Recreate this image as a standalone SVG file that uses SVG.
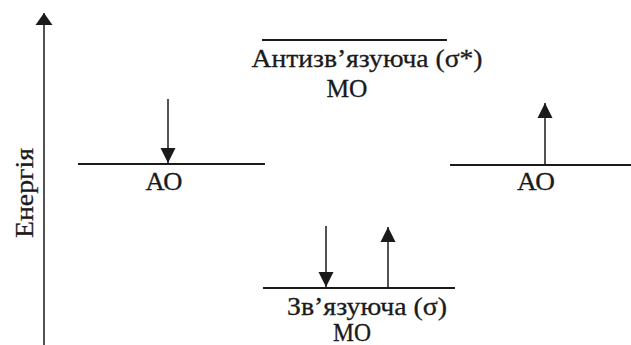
<svg xmlns="http://www.w3.org/2000/svg" width="631" height="345" viewBox="0 0 631 345">
<style>
.lvl{stroke:#1a1a1a;stroke-width:1.8;fill:none}
.arr{stroke:#1a1a1a;stroke-width:1.5;fill:none}
.t{font-family:"Liberation Serif","Times New Roman",serif;font-size:25px;fill:#1a1a1a;stroke:#1a1a1a;stroke-width:0.3}
</style>
<defs>
<marker id="head" markerUnits="userSpaceOnUse" markerWidth="16" markerHeight="16" viewBox="0 0 16 16" refX="15" refY="8" orient="auto">
<path d="M0,0.5 L15,8 L0,15.5 Z" fill="#1a1a1a"/>
</marker>
<marker id="axhead" markerUnits="userSpaceOnUse" markerWidth="13" markerHeight="18" viewBox="0 0 13 18" refX="12" refY="9" orient="auto">
<path d="M0,0.5 L12,9 L0,17.5 Z" fill="#1a1a1a"/>
</marker>
</defs>
<rect width="631" height="345" fill="#fff"/>
<g id="energy-axis">
<line class="arr" x1="44" y1="345" x2="44" y2="13" marker-end="url(#axhead)"/>
<text class="t" transform="translate(33,193) rotate(-90)" text-anchor="middle" textLength="90" lengthAdjust="spacingAndGlyphs">Енергія</text>
</g>
<g id="ao-left">
<line class="lvl" x1="78" y1="164" x2="265" y2="164"/>
<text class="t" x="164" y="190" text-anchor="middle" textLength="37" lengthAdjust="spacingAndGlyphs">АО</text>
</g>
<g id="ao-right">
<line class="lvl" x1="450" y1="165" x2="631" y2="165"/>
<text class="t" x="536" y="190" text-anchor="middle" textLength="38" lengthAdjust="spacingAndGlyphs">АО</text>
</g>
<g id="mo-antibonding">
<line class="lvl" x1="262" y1="40" x2="447" y2="40"/>
<text class="t" x="367" y="67" text-anchor="middle" textLength="231" lengthAdjust="spacingAndGlyphs">Антизв’язуюча (σ*)</text>
<text class="t" x="347" y="97" text-anchor="middle" textLength="41" lengthAdjust="spacingAndGlyphs">МО</text>
</g>
<g id="mo-bonding">
<line class="lvl" x1="263" y1="288" x2="455" y2="288"/>
<text class="t" x="367" y="315" text-anchor="middle" textLength="160" lengthAdjust="spacingAndGlyphs">Зв’язуюча (σ)</text>
<text class="t" x="352" y="341" text-anchor="middle" textLength="38" lengthAdjust="spacingAndGlyphs">МО</text>
</g>
<g id="connectors">
<line class="arr" x1="168" y1="99" x2="168" y2="163" marker-end="url(#head)"/>
<line class="arr" x1="545" y1="165" x2="545" y2="103" marker-end="url(#head)"/>
<line class="arr" x1="326" y1="226" x2="326" y2="287" marker-end="url(#head)"/>
<line class="arr" x1="388" y1="288" x2="388" y2="227" marker-end="url(#head)"/>
</g>
</svg>
